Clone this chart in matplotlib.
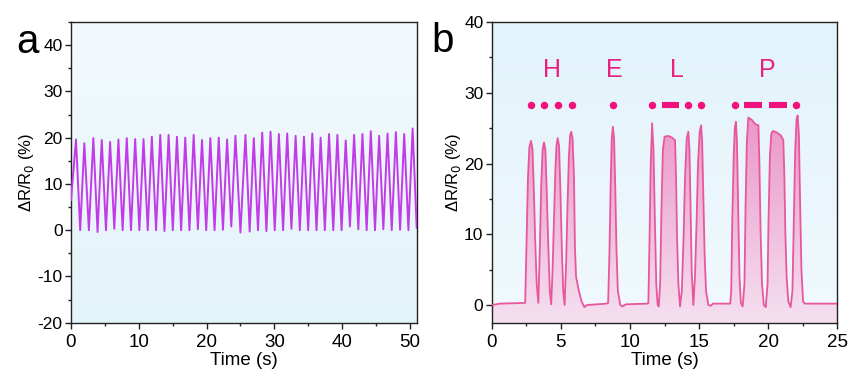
import numpy as np
import matplotlib.pyplot as plt
from matplotlib.colors import LinearSegmentedColormap
from matplotlib.ticker import MultipleLocator

plt.rcParams['font.family'] = ['Liberation Sans', 'DejaVu Sans']
plt.rcParams['axes.unicode_minus'] = False

# ---- panel a: cyclic stretching (peaks / troughs)
a_start = (0.0, 6.5)
a_end = (51.0, 0.5)
peak_t = [0.74, 1.97, 3.30, 4.54, 5.77, 7.00, 8.23, 9.47, 10.70, 11.93,
          13.17, 14.40, 15.63, 16.86, 18.10, 19.33, 20.56, 21.80, 23.03, 24.26,
          25.74, 26.97, 28.21, 29.44, 30.67, 31.90, 33.14, 34.37, 35.60, 36.83,
          38.07, 39.30, 40.53, 41.77, 43.00, 44.23, 45.46, 46.70, 47.93, 49.16,
          50.40]
peak_v = [19.6, 18.8, 19.9, 19.5, 19.1, 19.6, 19.9, 19.7, 19.7, 20.2,
          20.6, 20.6, 20.2, 20.0, 20.6, 19.5, 19.9, 20.0, 19.6, 20.4,
          20.6, 19.9, 21.1, 21.3, 20.8, 20.9, 20.4, 20.2, 20.9, 20.0,
          20.8, 20.6, 19.4, 20.6, 20.8, 21.4, 20.4, 20.9, 21.2, 20.8,
          22.0]
trough_t = [1.36, 2.64, 3.92, 5.16, 6.39, 7.62, 8.85, 10.09, 11.32, 12.55,
            13.79, 15.02, 16.25, 17.48, 18.72, 19.95, 21.18, 22.42, 23.65, 25.00,
            26.36, 27.59, 28.83, 30.06, 31.29, 32.52, 33.76, 34.99, 36.22, 37.45,
            38.69, 39.92, 41.15, 42.39, 43.62, 44.85, 46.08, 47.32, 48.55, 49.78]
trough_v = [0, 0, -0.4, 0, 0.3, 0, 0, 0, 0, 0,
            -0.2, 0, 0, 0, 0.2, 0, 0, 0.1, 0.8, -0.5,
            -0.3, 0, -0.2, 0, 0, 0.3, 0, 0, 0, 0,
            0, 0, 0.8, 0.2, 0, 0, 0.2, 0, 0.1, 0]

# ---- panel b: Morse code "HELP" (trace read point by point)
b_t = [0, 0.6, 2.3,
       2.42, 2.53, 2.62, 2.72, 2.84, 2.95, 3.05, 3.13, 3.25, 3.37,
       3.48, 3.58, 3.68, 3.78, 3.88, 3.98, 4.08, 4.2, 4.3,
       4.4, 4.5, 4.6, 4.68, 4.77, 4.87, 4.97, 5.07, 5.17, 5.27,
       5.38, 5.48, 5.58, 5.67, 5.75, 5.85, 5.95, 6.02, 6.1, 6.3, 6.5, 6.7, 6.9, 8.3,
       8.42, 8.52, 8.6, 8.68, 8.76, 8.85, 8.93, 9.02, 9.12, 9.3, 9.45, 9.7, 11.3,
       11.33, 11.42, 11.5, 11.6, 11.7, 11.8, 11.9, 12.0, 12.08, 12.18,
       12.28, 12.38, 12.5, 12.8, 13.0, 13.26, 13.33, 13.4, 13.5, 13.62, 13.75,
       13.88, 13.98, 14.1, 14.22, 14.3, 14.38, 14.46, 14.58, 14.7,
       14.82, 14.92, 15.04, 15.14, 15.22, 15.3, 15.4, 15.5, 15.67, 15.85, 16.0, 17.25,
       17.32, 17.4, 17.5, 17.58, 17.66, 17.74, 17.82, 17.92, 18.02, 18.15, 18.28,
       18.36, 18.45, 18.56, 18.85, 19.04, 19.29, 19.36, 19.45, 19.55, 19.68, 19.82, 19.95,
       20.02, 20.12, 20.22, 20.34, 20.6, 20.9, 21.09, 21.17, 21.24, 21.33, 21.45, 21.62, 21.75,
       21.85, 21.95, 22.05, 22.13, 22.22, 22.3, 22.4, 22.52, 22.65, 25.0]
b_v = [0.0, 0.2, 0.3,
       0.3, 10, 18, 22.3, 23.2, 22, 16, 10, 3, 0.3,
       8, 17, 22, 23.0, 22, 16, 9, 2, 0.1,
       5, 12, 19, 22.5, 23.6, 22.5, 16, 8, 2, 0.0,
       6, 14, 21, 24, 24.5, 23.5, 18, 8, 4, 2, 0.5, -0.3, 0.0, 0.2,
       0.3, 8, 17, 23.5, 25.2, 23.5, 17, 8, 2, 0.0, -0.2, 0.1, 0.2,
       0.3, 10, 20, 25.7, 22, 12, 3, 0.0, -0.2, 3,
       14, 22, 23.8, 23.9, 23.7, 23.3, 18, 10, 3, -0.2, 2,
       10, 18, 23.5, 24.5, 22, 14, 5, 0.0, 4,
       12, 20, 24.5, 25.4, 23, 16, 7, 2, 0.0, -0.1, 0.2, 0.2,
       2, 12, 21, 25, 25.9, 23, 14, 4, 0.3, -0.2, 3,
       14, 23, 26.5, 26.1, 25.6, 25.4, 20, 10, 3, 0.0, -0.3, 3,
       12, 21, 24.2, 24.6, 24.4, 24.0, 23.3, 18, 10, 4, 0.5, -0.3, 2,
       12, 22, 26.3, 26.8, 24, 15, 5, 0.5, 0.2, 0.2]

letters = ['H', 'E', 'L', 'P']
letter_t = [4.34, 8.87, 13.38, 19.96]
letter_y = 33.2
dot_t = [2.84, 3.78, 4.77, 5.78, 8.75, 11.57, 14.22, 15.14, 17.6, 22.01]
dash_t = [(12.29, 13.55), (18.27, 19.57), (20.06, 21.34)]
code_y = 28.3

line_a = '#C23BE6'
line_b = '#E8579E'
code_col = '#F0127C'


def gradient_bg(ax, xlim, ylim, c_top, c_bot):
    cmap = LinearSegmentedColormap.from_list('bg', [c_bot, c_top])
    grad = np.linspace(0, 1, 256).reshape(-1, 1)
    ax.imshow(grad, extent=[xlim[0], xlim[1], ylim[0], ylim[1]], origin='lower',
              aspect='auto', cmap=cmap, zorder=0)


def style_axes(ax):
    for s in ax.spines.values():
        s.set_color('#222222')
        s.set_linewidth(1.0)
    ax.tick_params(which='both', direction='out', top=False, right=False,
                   color='#222222', width=1.0)
    ax.tick_params(which='major', length=4)
    ax.tick_params(which='minor', length=2.5)
    ax.tick_params(axis='y', labelsize=12.5, pad=2)
    ax.tick_params(axis='x', labelsize=13.5, pad=4)


fig = plt.figure(figsize=(8.49, 3.70), dpi=100)

# panel a
ax1 = fig.add_axes([0.0836, 0.1278, 0.4072, 0.8127])
a_t = [a_start[0]]
a_v = [a_start[1]]
for i in range(len(peak_t)):
    a_t.append(peak_t[i])
    a_v.append(peak_v[i])
    if i < len(trough_t):
        a_t.append(trough_t[i])
        a_v.append(trough_v[i])
a_t.append(a_end[0])
a_v.append(a_end[1])

gradient_bg(ax1, (0, 51), (-20, 45), '#F3FAFE', '#E3F3FA')
ax1.plot(a_t, a_v, color=line_a, lw=1.4, solid_joinstyle='round', zorder=3)
ax1.set_xlim(0, 51)
ax1.set_ylim(-20, 45)
ax1.xaxis.set_major_locator(MultipleLocator(10))
ax1.xaxis.set_minor_locator(MultipleLocator(5))
ax1.yaxis.set_major_locator(MultipleLocator(10))
ax1.yaxis.set_minor_locator(MultipleLocator(5))
ax1.set_yticks([-20, -10, 0, 10, 20, 30, 40])
style_axes(ax1)
ax1.set_xlabel('Time (s)', fontsize=13.5, labelpad=1)
ax1.set_ylabel('ΔR/R$_0$ (%)', fontsize=12, labelpad=1)
fig.text(0.019, 0.858, 'a', fontsize=29, ha='left', va='baseline')

# panel b
ax2 = fig.add_axes([0.5792, 0.1278, 0.4071, 0.8127])
gradient_bg(ax2, (0, 25), (-2.5, 40), '#E2F3FB', '#F1F9FD')
ax2.axhspan(-2.5, 0.1, color='#F6E6F2', zorder=1, lw=0)
poly = ax2.fill_between(b_t, b_v, -2.5, color='none', lw=0, zorder=2)
fill_cmap = LinearSegmentedColormap.from_list(
    'fill', [(0.96, 0.88, 0.94, 1.0), (0.92, 0.58, 0.78, 1.0)])
grad = np.linspace(0, 1, 256).reshape(-1, 1)
im = ax2.imshow(grad, extent=[0, 25, -2.5, 27.5], origin='lower', aspect='auto',
                cmap=fill_cmap, zorder=2)
im.set_clip_path(poly.get_paths()[0], transform=ax2.transData)
ax2.plot(b_t, b_v, color=line_b, lw=1.3, solid_joinstyle='round', zorder=3)

for lt, ch in zip(letter_t, letters):
    ax2.text(lt, letter_y, ch, color='#E8207F', fontsize=18,
             ha='center', va='center', zorder=4)
ax2.plot(dot_t, [code_y] * len(dot_t), 'o', color=code_col, ms=5.4,
         mec='none', zorder=4)
for t0, t1 in dash_t:
    ax2.plot([t0, t1], [code_y, code_y], color=code_col, lw=4.4,
             solid_capstyle='butt', zorder=4)

ax2.set_xlim(0, 25)
ax2.set_ylim(-2.5, 40)
ax2.xaxis.set_major_locator(MultipleLocator(5))
ax2.xaxis.set_minor_locator(MultipleLocator(2.5))
ax2.yaxis.set_major_locator(MultipleLocator(10))
ax2.yaxis.set_minor_locator(MultipleLocator(5))
style_axes(ax2)
ax2.set_xlabel('Time (s)', fontsize=13.5, labelpad=1)
ax2.set_ylabel('ΔR/R$_0$ (%)', fontsize=12, labelpad=1)
fig.text(0.508, 0.860, 'b', fontsize=29, ha='left', va='baseline')

fig.savefig('out.png', dpi=100)
